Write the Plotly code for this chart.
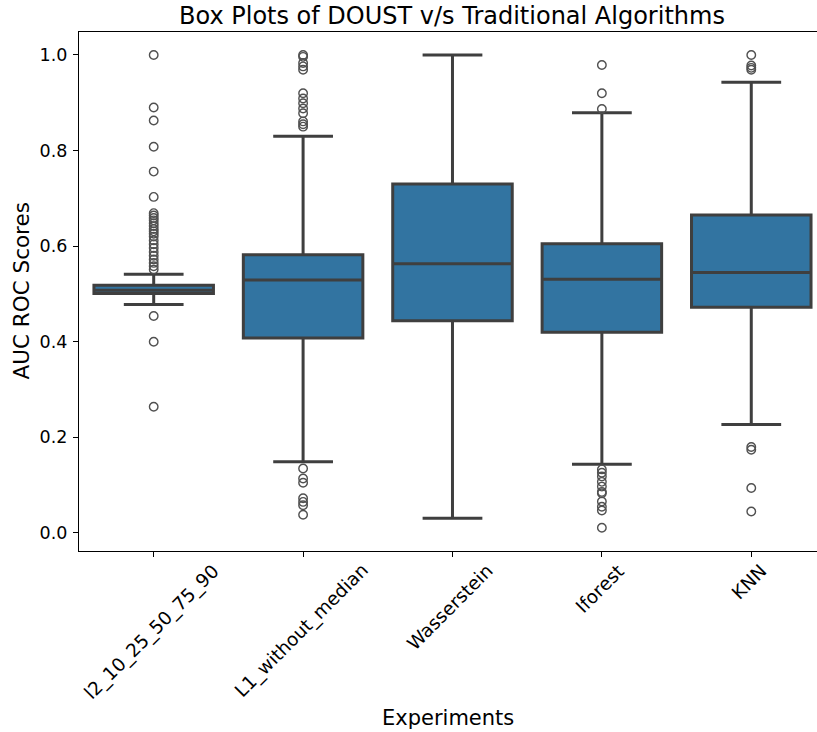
import plotly.graph_objects as go

categories = ["l2_10_25_50_75_90", "L1_without_median", "Wasserstein", "Iforest", "KNN"]

# precomputed box statistics
q1 = [0.501, 0.408, 0.444, 0.420, 0.472]
median = [0.508, 0.529, 0.563, 0.531, 0.545]
q3 = [0.518, 0.582, 0.730, 0.605, 0.665]
lower_whisker = [0.478, 0.149, 0.031, 0.144, 0.227]
upper_whisker = [0.541, 0.830, 1.000, 0.879, 0.943]

# outliers per category
outliers_l2 = [1.0, 0.890, 0.863, 0.808, 0.756, 0.703, 0.669, 0.664, 0.659, 0.654,
               0.648, 0.642, 0.636, 0.631, 0.626, 0.620, 0.612, 0.604, 0.596, 0.588,
               0.580, 0.572, 0.565, 0.558, 0.551, 0.454, 0.400, 0.264]
outliers_l1 = [1.0, 0.996, 0.983, 0.976, 0.969, 0.920, 0.909, 0.899, 0.888, 0.878,
               0.861, 0.855, 0.850, 0.135, 0.114, 0.105, 0.0725, 0.065, 0.058, 0.038]
outliers_wass = []
outliers_if = [0.979, 0.920, 0.887, 0.133, 0.126, 0.118, 0.107, 0.097, 0.086, 0.083,
               0.066, 0.055, 0.047, 0.011]
outliers_knn = [1.0, 0.978, 0.973, 0.969, 0.180, 0.174, 0.094, 0.045]
outliers = [outliers_l2, outliers_l1, outliers_wass, outliers_if, outliers_knn]

title_text = "Box Plots of DOUST v/s Traditional Algorithms"
x_title = "Experiments"
y_title = "AUC ROC Scores"
y_ticks = [0.0, 0.2, 0.4, 0.6, 0.8, 1.0]

FONT = "DejaVu Sans"
LINE = "#3f3f3f"
FILL = "#3274a1"

fig = go.Figure()
fig.add_trace(go.Box(
    x=categories, q1=q1, median=median, q3=q3,
    lowerfence=lower_whisker, upperfence=upper_whisker,
    boxpoints=False, fillcolor=FILL, width=0.8,
    line=dict(color=LINE, width=3), whiskerwidth=0.5,
    showlegend=False, hoverinfo="skip",
))
for cat, pts in zip(categories, outliers):
    if not pts:
        continue
    fig.add_trace(go.Scatter(
        x=[cat] * len(pts), y=pts, mode="markers",
        marker=dict(symbol="circle-open", size=8.5, color="#505050",
                    line=dict(width=1.4, color="#505050")),
        showlegend=False, hoverinfo="skip",
    ))

annotations = []
for cat in categories:
    annotations.append(dict(
        x=cat, xref="x", y=0, yref="paper", yanchor="top", xanchor="center",
        xshift=-2, yshift=-6, text=cat, textangle=-45, showarrow=False,
        font=dict(family=FONT, size=18.5, color="#000000"),
    ))
annotations.append(dict(
    x=0.5, xref="paper", y=-(717.5 - 551) / 519, yref="paper",
    xanchor="center", yanchor="middle", text=x_title, showarrow=False,
    font=dict(family=FONT, size=21, color="#000000"),
))
annotations.append(dict(
    x=-(79 - 21) / 738, xref="paper", y=0.5, yref="paper", text=y_title,
    showarrow=False, textangle=-90, xanchor="center", yanchor="middle",
    font=dict(family=FONT, size=21.5, color="#000000"),
))
annotations.append(dict(
    x=(452 - 79) / 738, xref="paper", y=1 + (32 - 16) / 519, yref="paper",
    xanchor="center", yanchor="middle", text=title_text, showarrow=False,
    font=dict(family=FONT, size=24, color="#000000"),
))

fig.update_layout(
    width=817, height=732,
    margin=dict(l=79, r=0, t=32, b=181),
    paper_bgcolor="white", plot_bgcolor="white",
    boxgap=0.2, boxgroupgap=0,
    font=dict(family=FONT, color="#000000"),
    annotations=annotations,
)
fig.update_xaxes(
    type="category", range=[-0.5, 4.44],
    showline=True, linecolor="#000000", linewidth=1.2, mirror=True,
    ticks="outside", ticklen=5, tickwidth=1, tickcolor="#000000",
    showticklabels=False, showgrid=False, zeroline=False,
)
fig.update_yaxes(
    range=[-0.0377, 1.048], tickvals=y_ticks,
    ticktext=[f"{v:.1f}" for v in y_ticks],
    showline=True, linecolor="#000000", linewidth=1.2,
    ticks="outside", ticklen=5, tickwidth=1, tickcolor="#000000",
    tickfont=dict(family=FONT, size=17.5, color="#000000"),
    ticklabelstandoff=2,
    showgrid=False, zeroline=False,
)

fig.write_html(
    "out.html",
    config={"displayModeBar": False},
    post_script="document.body.style.margin='0';document.body.style.overflow='hidden';",
)
